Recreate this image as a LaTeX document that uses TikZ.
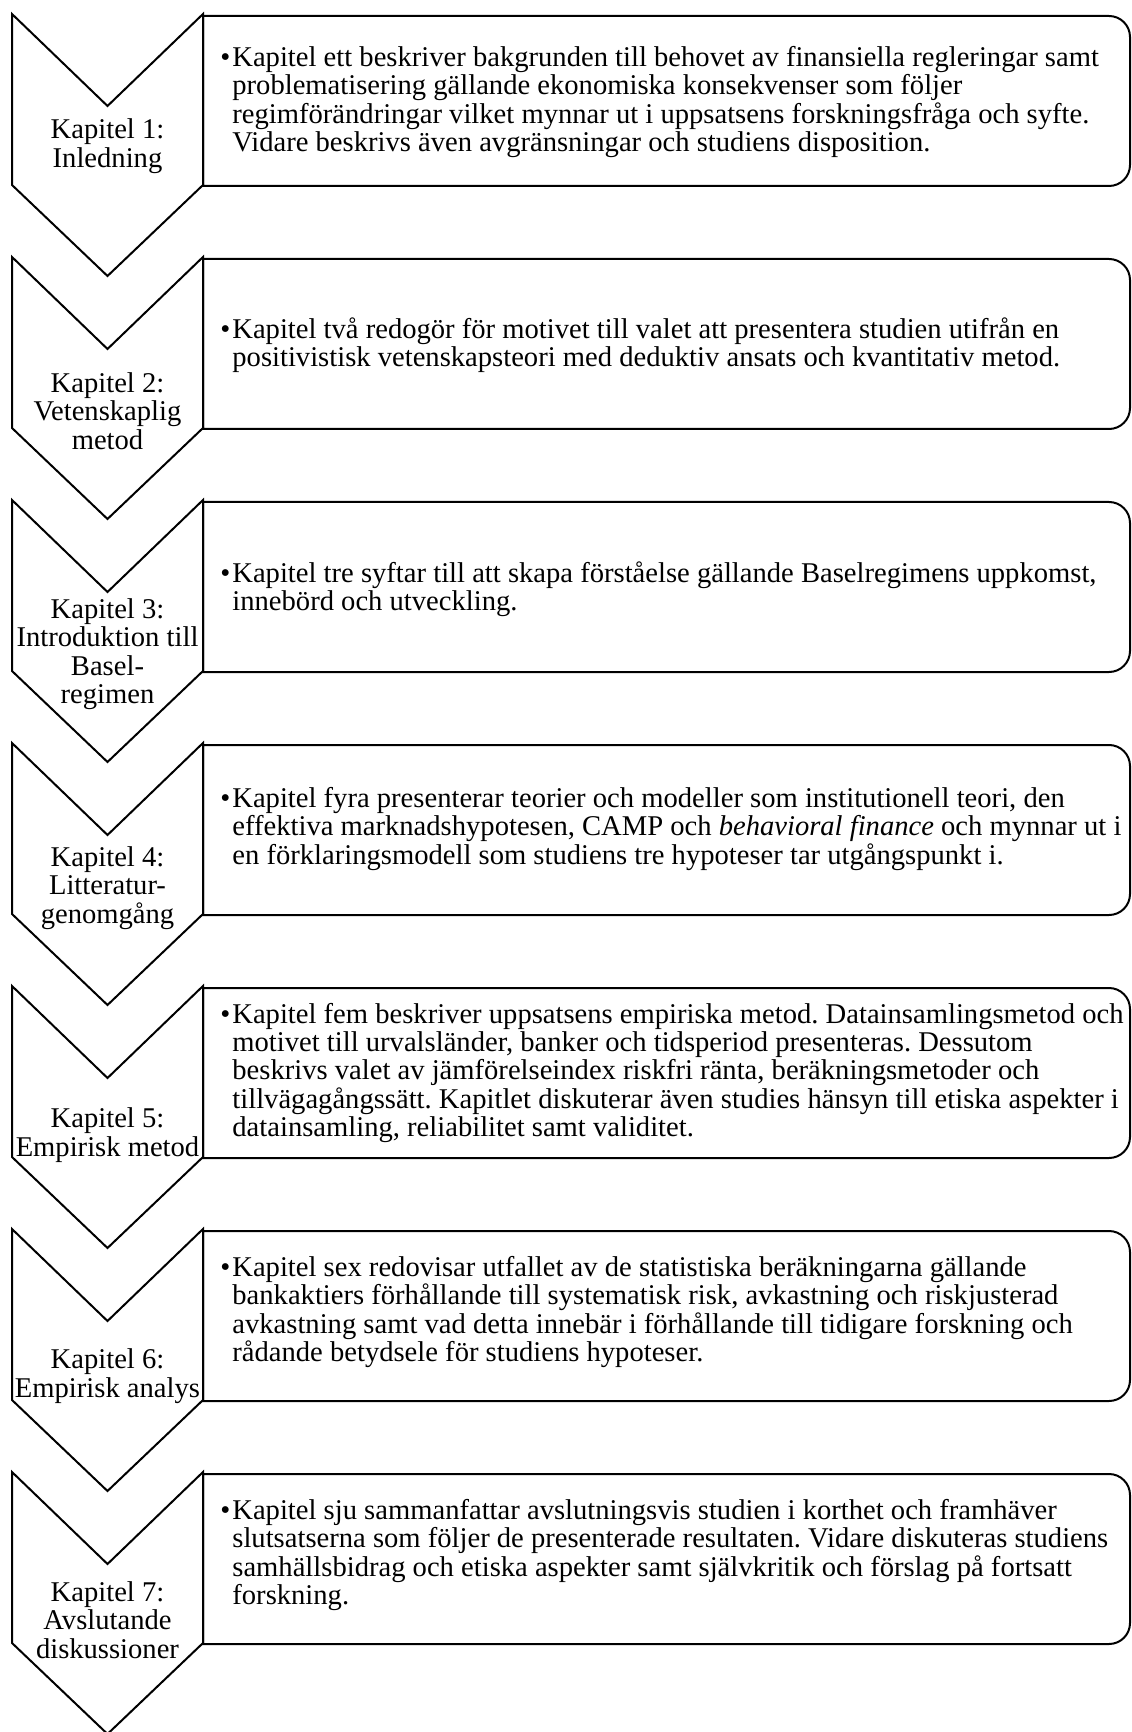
\documentclass[tikz,border=0pt]{standalone}
\usepackage{fontspec}
\setmainfont{Liberation Serif}
\frenchspacing
\newcommand{\kapfont}{\fontsize{14.3}{14.2}\selectfont}
\newcommand{\txtfont}{\fontsize{14.3}{14.2}\selectfont}
\begin{document}
\begin{tikzpicture}[x=0.5pt, y=-0.5pt,
    outline/.style={line width=1pt, line join=miter},
    kap/.style={align=center, inner sep=0pt, font=\kapfont},
    txt/.style={align=left, anchor=west, inner sep=0pt, font=\txtfont}]
  \useasboundingbox (0,0) rectangle (1131,1732);

  % chevrons
  \draw[outline] (12,14) -- (107.5,106) -- (203,14) -- (203,185) -- (107.5,276) -- (12,185) -- cycle;
  \draw[outline] (12,257) -- (107.5,349) -- (203,257) -- (203,428) -- (107.5,519) -- (12,428) -- cycle;
  \draw[outline] (12,500) -- (107.5,592) -- (203,500) -- (203,671) -- (107.5,762) -- (12,671) -- cycle;
  \draw[outline] (12,743) -- (107.5,835) -- (203,743) -- (203,914) -- (107.5,1005) -- (12,914) -- cycle;
  \draw[outline] (12,986) -- (107.5,1078) -- (203,986) -- (203,1157) -- (107.5,1248) -- (12,1157) -- cycle;
  \draw[outline] (12,1229) -- (107.5,1321) -- (203,1229) -- (203,1400) -- (107.5,1491) -- (12,1400) -- cycle;
  \draw[outline] (12,1472) -- (107.5,1564) -- (203,1472) -- (203,1643) -- (107.5,1734) -- (12,1643) -- cycle;

  % boxes
  \draw[outline] (203,16) -- (1109,16) arc[start angle=90, end angle=0, radius=10.5pt] -- (1130,165) arc[start angle=0, end angle=-90, radius=10.5pt] -- (203,186) -- cycle;
  \draw[outline] (203,259) -- (1109,259) arc[start angle=90, end angle=0, radius=10.5pt] -- (1130,408) arc[start angle=0, end angle=-90, radius=10.5pt] -- (203,429) -- cycle;
  \draw[outline] (203,502) -- (1109,502) arc[start angle=90, end angle=0, radius=10.5pt] -- (1130,651) arc[start angle=0, end angle=-90, radius=10.5pt] -- (203,672) -- cycle;
  \draw[outline] (203,745) -- (1109,745) arc[start angle=90, end angle=0, radius=10.5pt] -- (1130,894) arc[start angle=0, end angle=-90, radius=10.5pt] -- (203,915) -- cycle;
  \draw[outline] (203,988) -- (1109,988) arc[start angle=90, end angle=0, radius=10.5pt] -- (1130,1137) arc[start angle=0, end angle=-90, radius=10.5pt] -- (203,1158) -- cycle;
  \draw[outline] (203,1231) -- (1109,1231) arc[start angle=90, end angle=0, radius=10.5pt] -- (1130,1380) arc[start angle=0, end angle=-90, radius=10.5pt] -- (203,1401) -- cycle;
  \draw[outline] (203,1474) -- (1109,1474) arc[start angle=90, end angle=0, radius=10.5pt] -- (1130,1623) arc[start angle=0, end angle=-90, radius=10.5pt] -- (203,1644) -- cycle;

  % chapter labels
  \node[kap] (kap1) at (107.5,146) {Kapitel 1:\\Inledning};
  \node[kap] (kap2) at (107.5,411) {Kapitel 2:\\Vetenskaplig\\metod};
  \node[kap] (kap3) at (107.5,654) {Kapitel 3:\\Introduktion till\\Basel-\\regimen};
  \node[kap] (kap4) at (107.5,888) {Kapitel 4:\\Litteratur-\\genomgång};
  \node[kap] (kap5) at (107.5,1135) {Kapitel 5:\\Empirisk metod};
  \node[kap] (kap6) at (107.5,1376) {Kapitel 6:\\Empirisk analys};
  \node[kap] (kap7) at (107.5,1620) {Kapitel 7:\\Avslutande\\diskussioner};

  % descriptions
  \node[txt] (txt1) at (232,102) {\llap{\textbullet\hspace{1pt}}Kapitel ett beskriver bakgrunden till behovet av finansiella regleringar samt\\problematisering gällande ekonomiska konsekvenser som följer\\regimförändringar vilket mynnar ut i uppsatsens forskningsfråga och syfte.\\Vidare beskrivs även avgränsningar och studiens disposition.};
  \node[txt] (txt2) at (232,345) {\llap{\textbullet\hspace{1pt}}Kapitel två redogör för motivet till valet att presentera studien utifrån en\\positivistisk vetenskapsteori med deduktiv ansats och kvantitativ metod.};
  \node[txt] (txt3) at (232,589) {\llap{\textbullet\hspace{1pt}}Kapitel tre syftar till att skapa förståelse gällande Baselregimens uppkomst,\\innebörd och utveckling.};
  \node[txt] (txt4) at (232,829) {\llap{\textbullet\hspace{1pt}}Kapitel fyra presenterar teorier och modeller som institutionell teori, den\\effektiva marknadshypotesen, CAMP och \textit{behavioral finance} och mynnar ut i\\en förklaringsmodell som studiens tre hypoteser tar utgångspunkt i.};
  \node[txt] (txt5) at (232,1073) {\llap{\textbullet\hspace{1pt}}Kapitel fem beskriver uppsatsens empiriska metod. Datainsamlingsmetod och\\motivet till urvalsländer, banker och tidsperiod presenteras. Dessutom\\beskrivs valet av jämförelseindex riskfri ränta, beräkningsmetoder och\\tillvägagångssätt. Kapitlet diskuterar även studies hänsyn till etiska aspekter i\\datainsamling, reliabilitet samt validitet.};
  \node[txt] (txt6) at (232,1312) {\llap{\textbullet\hspace{1pt}}Kapitel sex redovisar utfallet av de statistiska beräkningarna gällande\\bankaktiers förhållande till systematisk risk, avkastning och riskjusterad\\avkastning samt vad detta innebär i förhållande till tidigare forskning och\\rådande betydsele för studiens hypoteser.};
  \node[txt] (txt7) at (232,1555) {\llap{\textbullet\hspace{1pt}}Kapitel sju sammanfattar avslutningsvis studien i korthet och framhäver\\slutsatserna som följer de presenterade resultaten. Vidare diskuteras studiens\\samhällsbidrag och etiska aspekter samt självkritik och förslag på fortsatt\\forskning.};
\end{tikzpicture}
\end{document}
